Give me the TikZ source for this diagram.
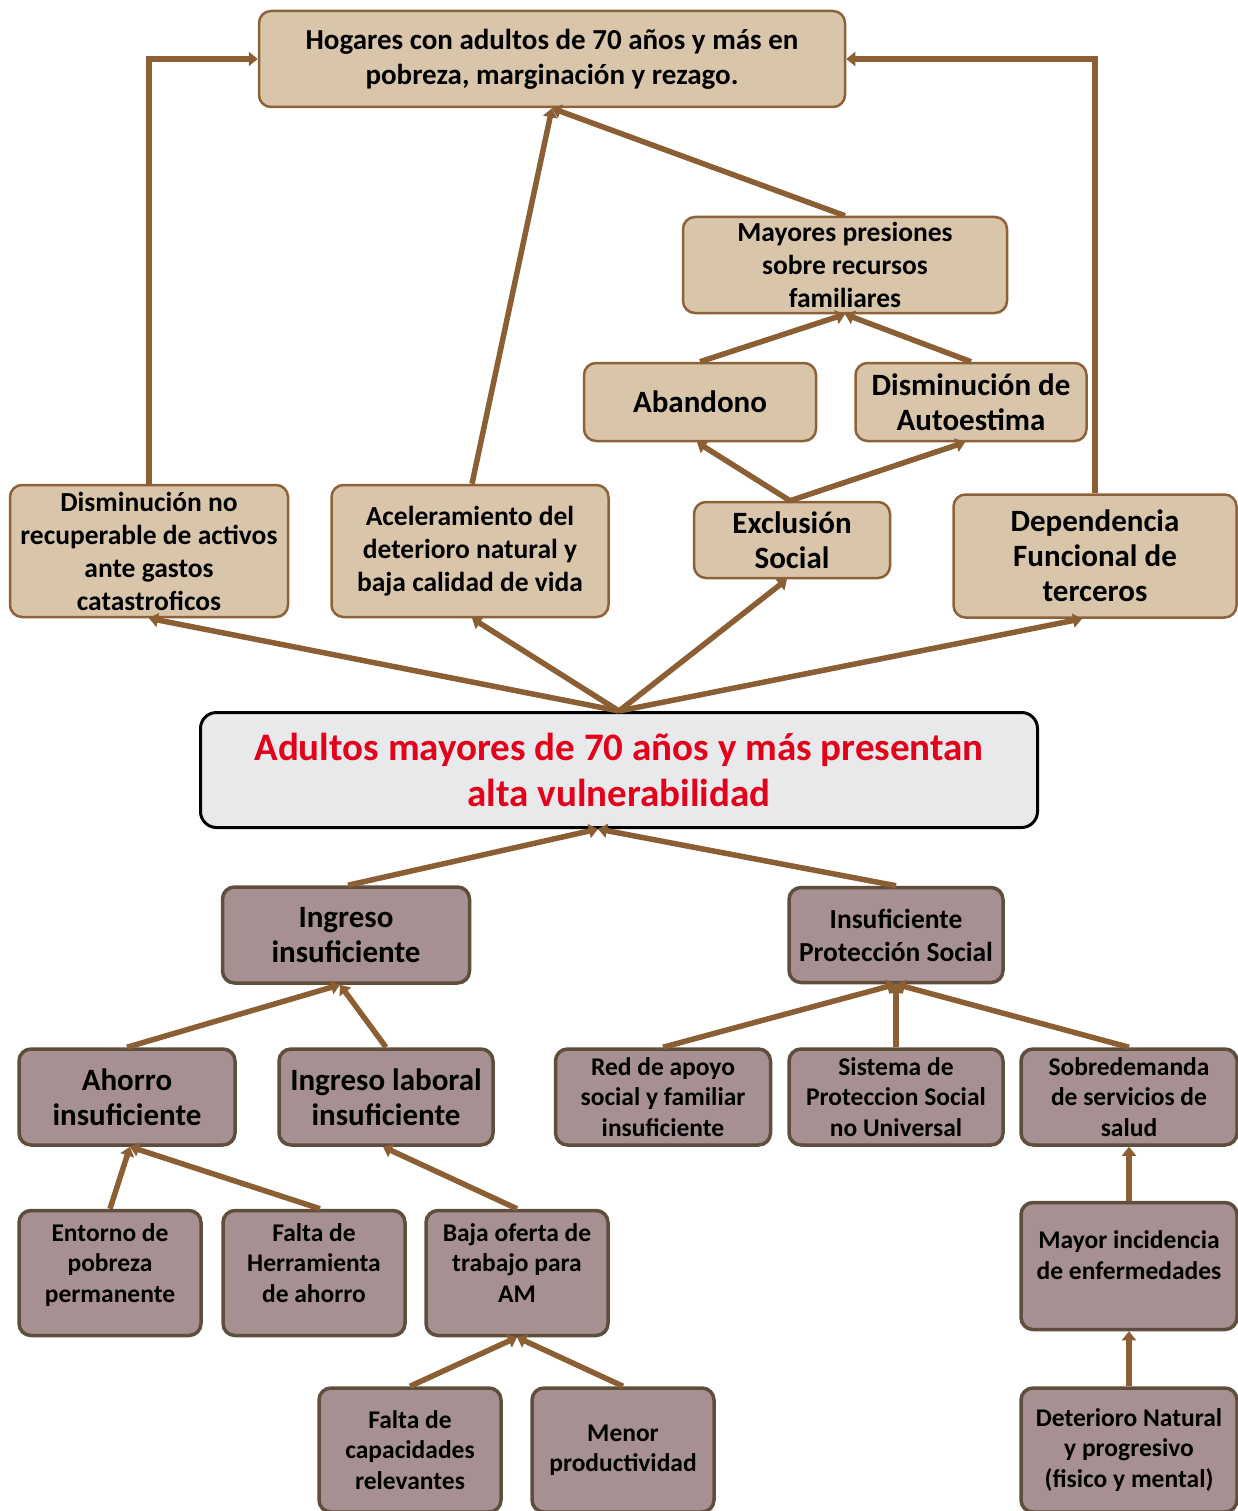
\documentclass[tikz,border=0pt]{standalone}
\usepackage{fontspec}
\setmainfont{Carlito}
\usetikzlibrary{arrows.meta}
\definecolor{topfill}{HTML}{D9C6AA}
\definecolor{topline}{HTML}{8E6139}
\definecolor{lowfill}{HTML}{A69092}
\definecolor{lowline}{HTML}{5F4E3C}
\definecolor{linkc}{HTML}{8B5E34}
\definecolor{cenfill}{HTML}{E8E9EB}
\definecolor{cenred}{HTML}{E2001A}
\begin{document}
\begin{tikzpicture}[x=1pt, y=-1pt,
    top/.style={draw=topline, fill=topfill, line width=2.5pt, rounded corners=12pt,
        align=center, inner sep=3pt, font=\bfseries\fontsize{27.5}{33}\selectfont},
    low/.style={draw=lowline, fill=lowfill, line width=3.5pt, rounded corners=12pt,
        align=center, inner sep=3pt, font=\bfseries\fontsize{27.5}{33}\selectfont},
    big/.style={font=\bfseries\fontsize{31}{35}\selectfont},
    small/.style={font=\bfseries\fontsize{25.5}{30.5}\selectfont},
    link/.style={draw=linkc, line width=5.5pt, -{Triangle[length=9pt,width=14pt]}}]
    \useasboundingbox (0,0) rectangle (1238,1511);

    % Effects (top)
    \node[top, font=\bfseries\fontsize{29}{35}\selectfont, minimum width=586pt, minimum height=96pt] (hog) at (552,59)
        {Hogares con adultos de 70 años y más en\\pobreza, marginación y rezago.};
    \node[top, minimum width=324pt, minimum height=96pt] (may) at (845,265)
        {Mayores presiones\\sobre recursos\\familiares};
    \node[top, big, minimum width=232pt, minimum height=78pt] (aban) at (700,402) {Abandono};
    \node[top, big, minimum width=231pt, minimum height=78pt] (auto) at (971,402) {Disminución de\\Autoestima};
    \node[top, big, minimum width=196pt, minimum height=76pt] (excl) at (792,540) {Exclusión\\Social};
    \node[top, minimum width=278pt, minimum height=132pt] (dism) at (149,551)
        {Disminución no\\recuperable de activos\\ante gastos\\catastroficos};
    \node[top, minimum width=277pt, minimum height=132pt] (acel) at (470,551)
        {Aceleramiento del\\deterioro natural y\\baja calidad de vida};
    \node[top, big, minimum width=283pt, minimum height=123pt] (depe) at (1095,556)
        {Dependencia\\Funcional de\\terceros};

    % Central problem
    \node[draw=black, fill=cenfill, line width=3pt, rounded corners=16pt, align=center,
        text=cenred, font=\bfseries\fontsize{39}{46}\selectfont,
        minimum width=837pt, minimum height=115pt] (cen) at (619,770)
        {Adultos mayores de 70 años y más presentan\\alta vulnerabilidad};

    % Causes (bottom)
    \node[low, big, minimum width=247pt, minimum height=96pt] (ing) at (346,935) {Ingreso\\insuficiente};
    \node[low, minimum width=214pt, minimum height=95pt] (ips) at (896,935) {Insuficiente\\Protección Social};
    \node[low, big, minimum width=216pt, minimum height=96pt] (aho) at (127,1097) {Ahorro\\insuficiente};
    \node[low, big, minimum width=214pt, minimum height=96pt] (ila) at (386,1097) {Ingreso laboral\\insuficiente};
    \node[low, small, minimum width=215pt, minimum height=96pt] (red) at (663,1097)
        {Red de apoyo\\social y familiar\\insuficiente};
    \node[low, small, minimum width=214pt, minimum height=96pt] (sis) at (896,1097)
        {Sistema de\\Proteccion Social\\no Universal};
    \node[low, small, minimum width=216pt, minimum height=96pt] (sob) at (1129,1097)
        {Sobredemanda\\de servicios de\\salud};
    \node[low, small, minimum width=182pt, minimum height=125pt, text depth=20pt] (ent) at (110,1273)
        {Entorno de\\pobreza\\permanente};
    \node[low, small, minimum width=182pt, minimum height=125pt, text depth=20pt] (fal) at (314,1273)
        {Falta de\\Herramienta\\de ahorro};
    \node[low, small, minimum width=182pt, minimum height=125pt, text depth=20pt] (baj) at (517,1273)
        {Baja oferta de\\trabajo para\\AM};
    \node[low, small, minimum width=216pt, minimum height=127pt, text depth=22pt] (inc) at (1129,1266)
        {Mayor incidencia\\de enfermedades};
    \node[low, small, minimum width=182pt, minimum height=124pt] (fca) at (410,1450)
        {Falta de\\capacidades\\relevantes};
    \node[low, small, minimum width=182pt, minimum height=124pt] (men) at (623,1450)
        {Menor\\productividad};
    \node[low, small, minimum width=216pt, minimum height=124pt] (det) at (1129,1450)
        {Deterioro Natural\\y progresivo\\(fisico y mental)};

    % Shared arrow targets
    \coordinate (cenS) at ([xshift=-21pt]cen.south);
    \coordinate (ingS) at ([xshift=-6pt]ing.south);

    % Arrows, upper half
    \draw[link] (dism.north) |- (hog.west);
    \draw[link] (depe.north) |- (hog.east);
    \draw[link] ([xshift=2pt]acel.north) -- (hog.south);
    \draw[link] (may.north) -- (hog.south);
    \draw[link] (aban.north) -- (may.south);
    \draw[link] (auto.north) -- (may.south);
    \draw[link] ([xshift=-2pt]excl.north) -- ([xshift=-3pt]aban.south);
    \draw[link] ([xshift=-2pt]excl.north) -- ([xshift=-6pt]auto.south);
    \draw[link] (cen.north) -- (dism.south);
    \draw[link] (cen.north) -- ([xshift=2pt]acel.south);
    \draw[link] (cen.north) -- ([xshift=-5pt]excl.south);
    \draw[link] (cen.north) -- ([xshift=-13pt]depe.south);

    % Arrows, lower half
    \draw[link] ([xshift=2pt]ing.north) -- (cenS);
    \draw[link] (ips.north) -- (cenS);
    \draw[link] (aho.north) -- (ingS);
    \draw[link] (ila.north) -- (ingS);
    \draw[link] (red.north) -- (ips.south);
    \draw[link] (sis.north) -- (ips.south);
    \draw[link] (sob.north) -- (ips.south);
    \draw[link] (ent.north) -- ([xshift=3pt]aho.south);
    \draw[link] ([xshift=6pt]fal.north) -- ([xshift=3pt]aho.south);
    \draw[link] (baj.north) -- ([xshift=-3pt]ila.south);
    \draw[link] (inc.north) -- (sob.south);
    \draw[link] (det.north) -- (inc.south);
    \draw[link] (fca.north) -- (baj.south);
    \draw[link] (men.north) -- (baj.south);
\end{tikzpicture}
\end{document}
